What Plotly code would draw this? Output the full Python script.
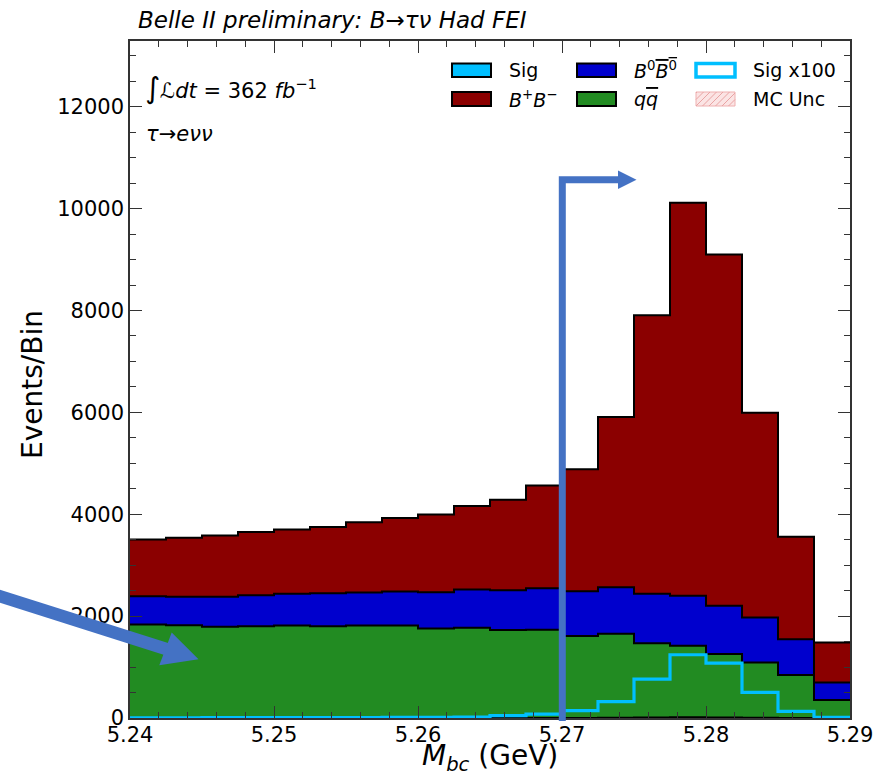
import plotly.graph_objects as go

# ---------------- data ----------------
bin_edges = [5.24, 5.2425, 5.245, 5.2475, 5.25, 5.2525, 5.255, 5.2575, 5.26, 5.2625,
             5.265, 5.2675, 5.27, 5.2725, 5.275, 5.2775, 5.28, 5.2825, 5.285, 5.2875, 5.29]

sig = [0.05, 0.05, 0.06, 0.07, 0.08, 0.09, 0.10, 0.12, 0.14, 0.18,
       0.45, 0.78, 1.44, 3.20, 7.65, 12.42, 10.78, 5.03, 1.31, 0.14]
qq = [1836, 1823, 1790, 1803, 1817, 1803, 1817, 1817, 1758, 1771,
      1725, 1732, 1606, 1650, 1460, 1405, 1245, 1085, 845, 355]
b0b0 = [556, 556, 589, 608, 620, 647, 647, 666, 712, 751,
        784, 816, 883, 915, 973, 981, 948, 882, 699, 340]
bpbm = [1111, 1157, 1202, 1242, 1262, 1301, 1379, 1445, 1523, 1641,
        1774, 2014, 2393, 3340, 5466, 7716, 6897, 4021, 2011, 786]
sig_scale = 100

x_ticks = [5.24, 5.25, 5.26, 5.27, 5.28, 5.29]
x_ticktext = ["5.24", "5.25", "5.26", "5.27", "5.28", "5.29"]
y_ticks = [0, 2000, 4000, 6000, 8000, 10000, 12000]
y_ticktext = ["0", "2000", "4000", "6000", "8000", "10000", "12000"]

# ---------------- styling ----------------
W, H = 873, 778
ML, MR, MT, MB = 130, 23, 41, 60
PW, PH = W - ML - MR, H - MT - MB
FONT = "DejaVu Sans"
C_SIG = "#00BFFF"
C_QQ = "#228B22"
C_B0 = "#0000CD"
C_BP = "#8B0000"
C_ARROW = "#4472C4"
AX = "#333333"


def px(x):
    return (x - ML) / PW


def py(y):
    return (MT + PH - y) / PH


def step(vals):
    return list(vals) + [vals[-1]]


cum_sig = list(sig)
cum_qq = [a + b for a, b in zip(cum_sig, qq)]
cum_b0 = [a + b for a, b in zip(cum_qq, b0b0)]
cum_bp = [a + b for a, b in zip(cum_b0, bpbm)]
sig_x100 = [v * sig_scale for v in sig]

fig = go.Figure()
layers = [(cum_sig, C_SIG, "tozeroy", "Sig"),
          (cum_qq, C_QQ, "tonexty", "qq"),
          (cum_b0, C_B0, "tonexty", "B0B0"),
          (cum_bp, C_BP, "tonexty", "B+B-")]
for vals, col, fillmode, name in layers:
    fig.add_trace(go.Scatter(x=bin_edges, y=step(vals), mode="lines",
                             line=dict(shape="hv", color="black", width=2),
                             fill=fillmode, fillcolor=col, name=name,
                             showlegend=False, hoverinfo="skip"))
fig.add_trace(go.Scatter(x=bin_edges, y=step(sig_x100), mode="lines",
                         line=dict(shape="hv", color=C_SIG, width=3.2),
                         name="Sig x100", showlegend=False, hoverinfo="skip"))

axis_common = dict(showline=True, linecolor=AX, linewidth=1.5, mirror="allticks",
                   ticks="inside", ticklen=12, tickwidth=1.3, tickcolor=AX,
                   showgrid=False, zeroline=False, ticklabeloverflow="allow",
                   automargin=False,
                   tickfont=dict(family=FONT, size=21, color="black"))
fig.update_xaxes(range=[5.24, 5.29], tickmode="array", tickvals=x_ticks,
                 ticktext=x_ticktext, ticklabelstandoff=-3,
                 minor=dict(ticks="inside", dtick=0.002, tick0=5.24, ticklen=6,
                            tickwidth=1, tickcolor=AX, showgrid=False),
                 **axis_common)
fig.update_yaxes(range=[0, 13290], tickmode="array", tickvals=y_ticks,
                 ticktext=y_ticktext,
                 minor=dict(ticks="inside", dtick=500, tick0=0, ticklen=6,
                            tickwidth=1, tickcolor=AX, showgrid=False),
                 **axis_common)

annotations = [
    dict(x=px(136), y=py(20), xref="paper", yref="paper", xanchor="left", yanchor="middle",
         text="<i>Belle II preliminary: B→τν Had FEI</i>", showarrow=False,
         font=dict(family=FONT, size=23, color="black")),
    dict(x=px(143), y=py(88), xref="paper", yref="paper", xanchor="left", yanchor="middle",
         text="<span style='font-size:29px'>∫</span><i>ℒdt</i> = 362 <i>fb</i><sup>−1</sup>",
         showarrow=False, font=dict(family=FONT, size=21, color="black")),
    dict(x=px(144), y=py(134), xref="paper", yref="paper", xanchor="left", yanchor="middle",
         text="<i>τ→eνν</i>", showarrow=False, font=dict(family=FONT, size=21, color="black")),
    dict(x=px(490), y=py(758), xref="paper", yref="paper", xanchor="center", yanchor="middle",
         text="<i>M</i><sub><i>bc</i></sub> (GeV)", showarrow=False,
         font=dict(family=FONT, size=28, color="black")),
    dict(x=px(32), y=py(385), xref="paper", yref="paper", xanchor="center", yanchor="middle",
         text="Events/Bin", textangle=-90, showarrow=False,
         font=dict(family=FONT, size=28, color="black")),
]

shapes = []
# ---- manual legend ----
leg_cols = [452, 577, 696]
leg_rows = [(63.5, 77), (92, 106)]
leg_items = [
    (0, 0, C_SIG, "black", 2, "Sig"),
    (0, 1, C_BP, "black", 2, "<i>B</i><sup>+</sup><i>B</i><sup>−</sup>"),
    (1, 0, C_B0, "black", 2, "<i>B</i><sup>0</sup><span style='text-decoration:overline'><i>B</i><sup>0</sup></span>"),
    (1, 1, C_QQ, "black", 2, "<i>q</i><span style='text-decoration:overline'><i>q</i></span>"),
    (2, 0, "white", C_SIG, 3.5, "Sig x100"),
    (2, 1, "#fbe4e4", "#efb0b0", 1, "MC Unc"),
]
for c, r, fc, lc, lw, label in leg_items:
    x0 = leg_cols[c]
    x1 = x0 + 39
    y0, y1 = leg_rows[r]
    shapes.append(dict(type="rect", xref="paper", yref="paper",
                       x0=px(x0), x1=px(x1), y0=py(y1), y1=py(y0),
                       fillcolor=fc, line=dict(color=lc, width=lw), layer="above"))
    annotations.append(dict(x=px(x0 + 55), y=py((y0 + y1) / 2), xref="paper", yref="paper",
                            xanchor="left", yanchor="middle", text=label, showarrow=False,
                            font=dict(family=FONT, size=19, color="black")))
# hatch of MC Unc legend patch
hx0, hx1 = leg_cols[2], leg_cols[2] + 39
hy0, hy1 = leg_rows[1]
hh = hy1 - hy0
for k in range(-2, 8):
    xa = hx0 + k * 6.5
    sa, sb = 0.0, 1.0
    if xa < hx0:
        sa = (hx0 - xa) / hh
    if xa + hh > hx1:
        sb = (hx1 - xa) / hh
    if sa >= sb:
        continue
    shapes.append(dict(type="line", xref="paper", yref="paper",
                       x0=px(xa + sa * hh), y0=py(hy1 - sa * hh),
                       x1=px(xa + sb * hh), y1=py(hy1 - sb * hh),
                       line=dict(color="#e9a3a3", width=1), layer="above"))

# ---- blue drawn arrows ----
shapes.append(dict(type="path", xref="paper", yref="paper",
                   path=f"M {px(562.3)},{py(721)} L {px(562.3)},{py(179.7)} L {px(620)},{py(179.7)}",
                   line=dict(color=C_ARROW, width=7), layer="above"))
shapes.append(dict(type="path", xref="paper", yref="paper",
                   path=f"M {px(618)},{py(170.5)} L {px(636.5)},{py(179.7)} L {px(618)},{py(189)} Z",
                   fillcolor=C_ARROW, line=dict(color=C_ARROW, width=0), layer="above"))
shapes.append(dict(type="line", xref="paper", yref="paper",
                   x0=px(-10), y0=py(593.1), x1=px(167), y1=py(649.3),
                   line=dict(color=C_ARROW, width=12.5), layer="above"))
shapes.append(dict(type="path", xref="paper", yref="paper",
                   path=f"M {px(171.7)},{py(632.5)} L {px(198.5)},{py(659.3)} L {px(159.3)},{py(665.2)} Z",
                   fillcolor=C_ARROW, line=dict(color=C_ARROW, width=0), layer="above"))

fig.update_layout(width=W, height=H, margin=dict(l=ML, r=MR, t=MT, b=MB, autoexpand=False),
                  plot_bgcolor="white", paper_bgcolor="white",
                  showlegend=False, annotations=annotations, shapes=shapes,
                  font=dict(family=FONT))

fig.write_html("out.html")
